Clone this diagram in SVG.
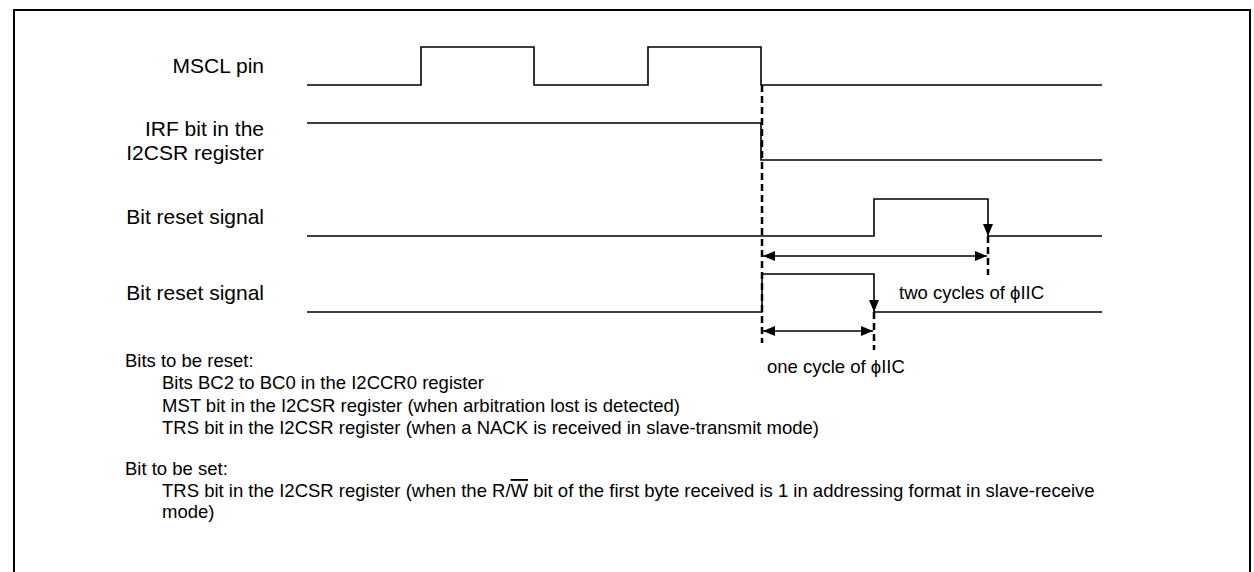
<svg xmlns="http://www.w3.org/2000/svg" width="1254" height="572" viewBox="0 0 1254 572">
<style>
.lbl{font-family:"Liberation Sans",Arial,sans-serif;font-size:21px;fill:#000;text-anchor:end}
.txt{font-family:"Liberation Sans",Arial,sans-serif;font-size:18.5px;fill:#000}
.wave{fill:none;stroke:#000;stroke-width:1.6}
.dash{fill:none;stroke:#000;stroke-width:2.5;stroke-dasharray:7 4}
.dim{fill:none;stroke:#000;stroke-width:1.6}
.ol{text-decoration:overline}
</style>
<defs>
<marker id="arr" viewBox="0 0 12 10" refX="12" refY="5" markerWidth="12" markerHeight="10" markerUnits="userSpaceOnUse" orient="auto-start-reverse">
<path d="M0,0 L12,5 L0,10 z" fill="#000"/>
</marker>
</defs>
<rect x="14" y="10" width="1236" height="600" fill="#fff" stroke="#000" stroke-width="2"/>
<g id="mscl">
<text class="lbl" x="264" y="73">MSCL pin</text>
<path class="wave" d="M307,85 H421 V47 H534 V85 H648 V47 H761 V85 H1102"/>
</g>
<g id="irf">
<text class="lbl" x="264" y="136">IRF bit in the</text>
<text class="lbl" x="264" y="160">I2CSR register</text>
<path class="wave" d="M307,123 H761 V160 H1102"/>
</g>
<g id="reset1">
<text class="lbl" x="264" y="224">Bit reset signal</text>
<path class="wave" d="M307,236 H874 V199 H988 V236" marker-end="url(#arr)"/>
<path class="wave" d="M988,236 H1102"/>
</g>
<g id="reset2">
<text class="lbl" x="264" y="300">Bit reset signal</text>
<path class="wave" d="M307,312 H762 V274 H874 V312" marker-end="url(#arr)"/>
<path class="wave" d="M874,312 H1102"/>
</g>
<g id="connectors">
<path class="dash" d="M762,85 V343"/>
<path class="dash" d="M988,236 V275"/>
<path class="dash" d="M874,312 V350"/>
<path class="dim" d="M763,256 H987" marker-start="url(#arr)" marker-end="url(#arr)"/>
<path class="dim" d="M763,331 H873" marker-start="url(#arr)" marker-end="url(#arr)"/>
</g>
<g id="dim-labels">
<text class="txt" x="899" y="299">two cycles of ϕIIC</text>
<text class="txt" x="767" y="373">one cycle of ϕIIC</text>
</g>
<g id="notes">
<text class="txt" x="125" y="367">Bits to be reset:</text>
<text class="txt" x="162" y="389">Bits BC2 to BC0 in the I2CCR0 register</text>
<text class="txt" x="162" y="412">MST bit in the I2CSR register (when arbitration lost is detected)</text>
<text class="txt" x="162" y="434">TRS bit in the I2CSR register (when a NACK is received in slave-transmit mode)</text>
<text class="txt" x="125" y="475">Bit to be set:</text>
<text class="txt" x="162" y="497">TRS bit in the I2CSR register (when the R/<tspan class="ol">W</tspan> bit of the first byte received is 1 in addressing format in slave-receive</text>
<text class="txt" x="162" y="518">mode)</text>
</g>
</svg>
